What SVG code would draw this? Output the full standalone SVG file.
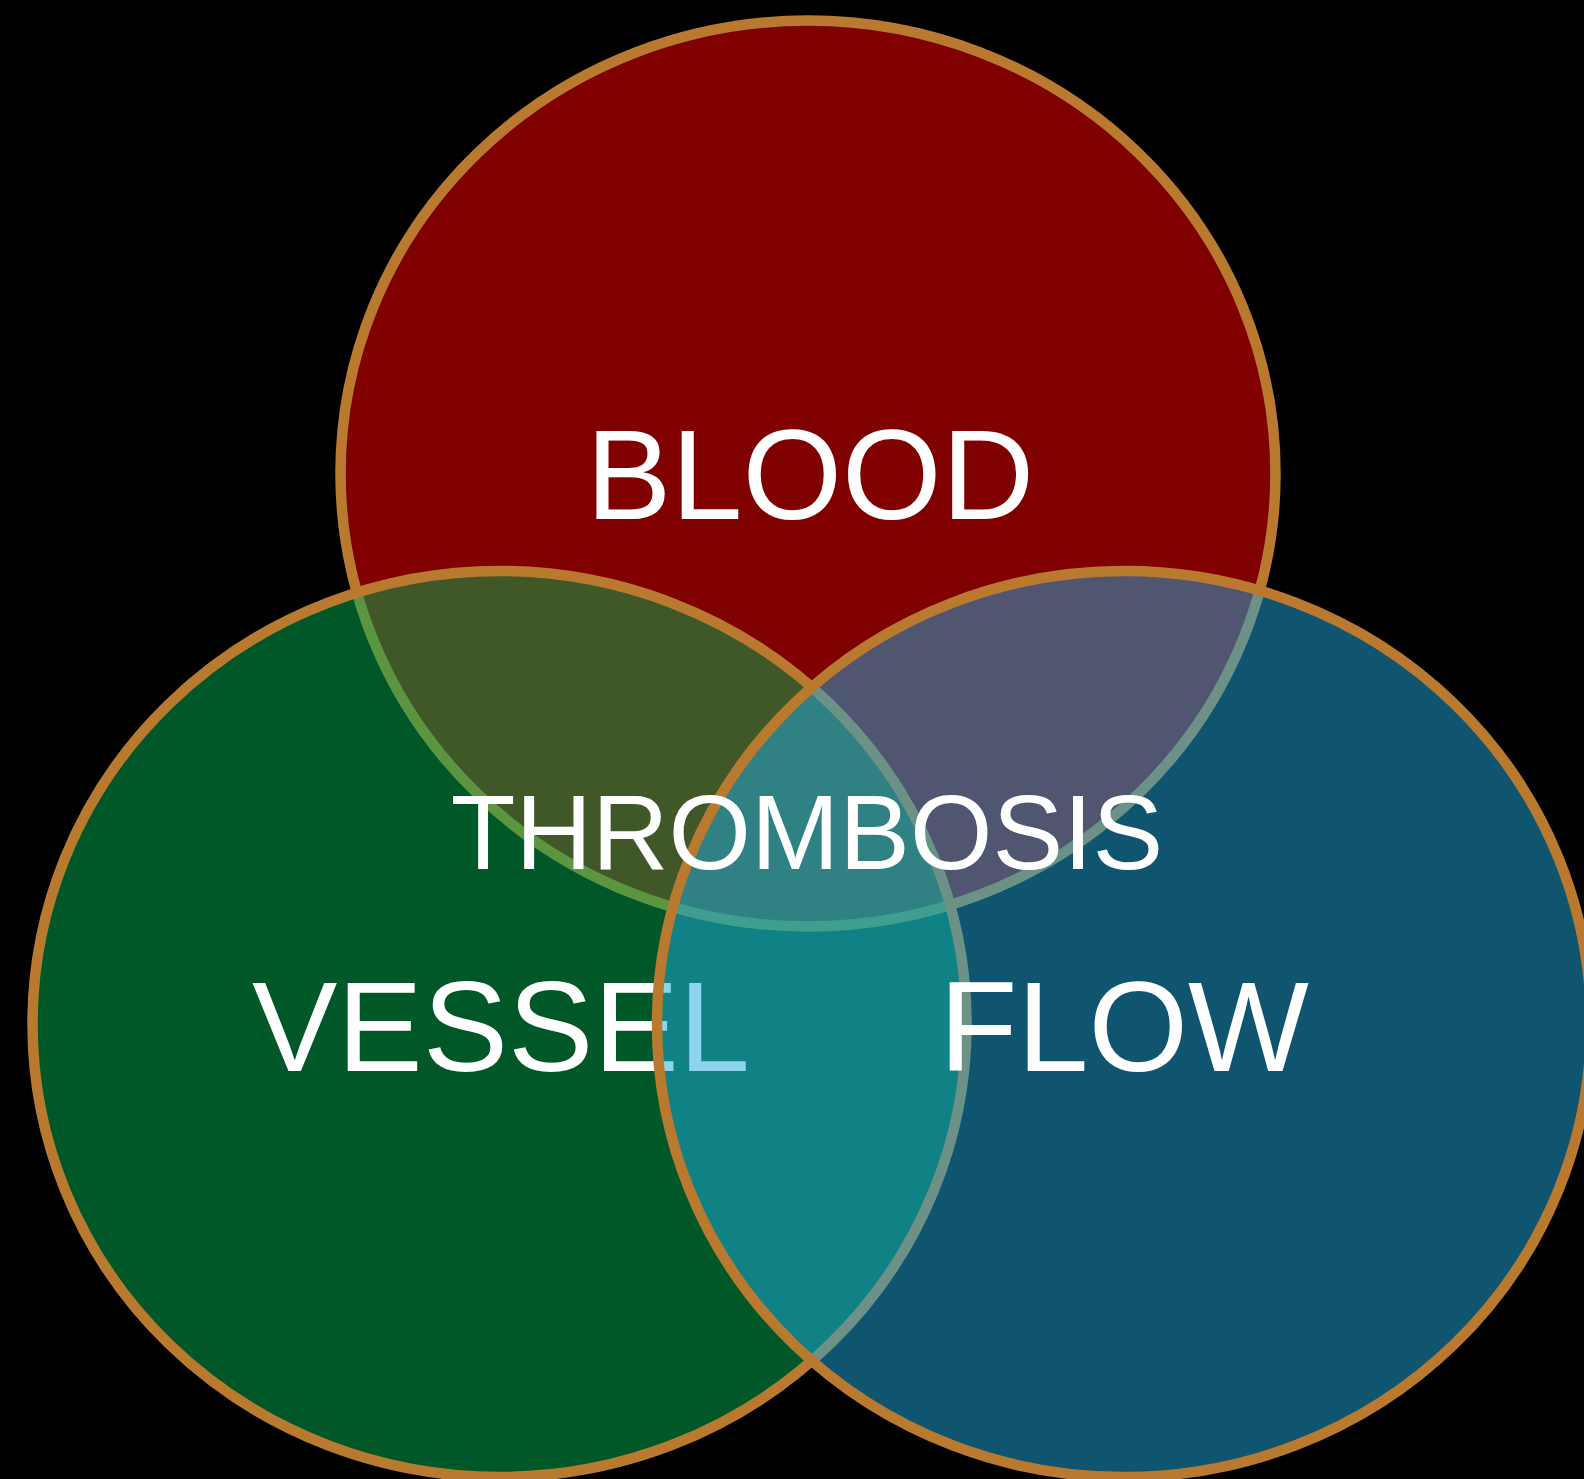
<svg xmlns="http://www.w3.org/2000/svg" width="1584" height="1479" viewBox="0 0 1584 1479">
  <style>
    .set { stroke: #B97A2F; stroke-width: 10.5; }
    .half { fill-opacity: 0.5; }
    .lbl { font-family: "Liberation Sans", Arial, sans-serif; fill: #FFFFFF; text-anchor: middle; }
    .big { font-size: 128px; }
    .mid { font-size: 106px; }
  </style>
  <rect x="0" y="0" width="1584" height="1479" fill="#000000"/>
  <g id="blood">
    <ellipse class="set" cx="808" cy="473.5" rx="467.5" ry="453" fill="#800000"/>
    <text class="lbl big" x="810" y="519">BLOOD</text>
  </g>
  <g id="vessel">
    <ellipse class="set half" cx="499.5" cy="1024" rx="467" ry="453" fill="#00B050"/>
    <text class="lbl big" x="501" y="1071">VESSEL</text>
  </g>
  <g id="flow">
    <ellipse class="set half" cx="1124" cy="1024" rx="467" ry="453" fill="#20AAE0"/>
    <text class="lbl big" x="1124" y="1071">FLOW</text>
  </g>
  <g id="thrombosis">
    <text class="lbl mid" x="807" y="869">THROMBOSIS</text>
  </g>
  <g id="connectors"/>
</svg>
